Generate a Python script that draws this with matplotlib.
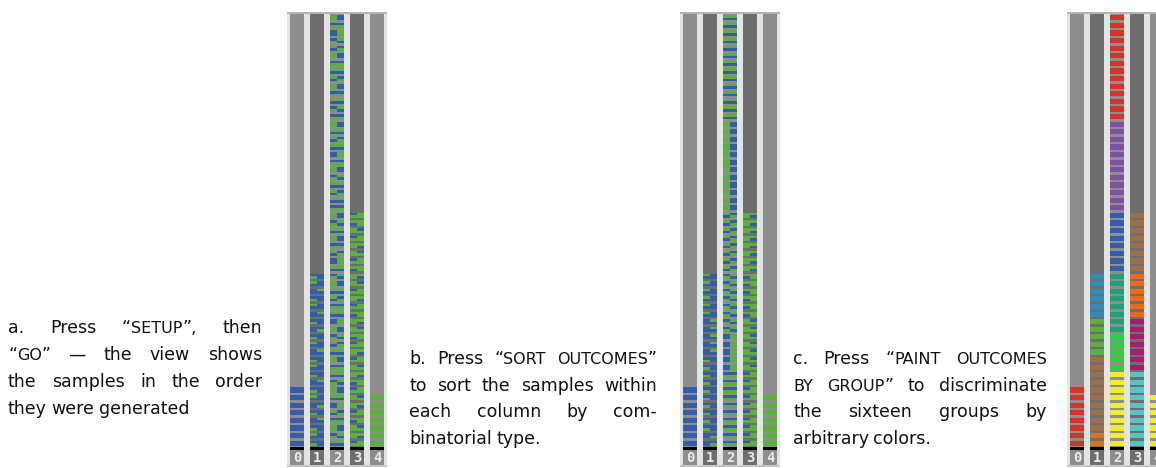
import re
import matplotlib
matplotlib.use("Agg")
import matplotlib.pyplot as plt

W, H = 1156, 468

# NetLogo-like palette
BLUE = "#345da9"
GREEN = "#59b03c"
RED = "#d73229"
ORANGE = "#f16913"
BROWN = "#9d6e48"
YELLOW = "#eded2f"
CYAN = "#54c4c4"
MAGENTA = "#a71b6a"
VIOLET = "#7c50a4"
TURQUOISE = "#1d9f78"
LIME = "#2cd13b"
SKY = "#2d8dbe"
COL_BG = ["#8d8d8d", "#6e6e6e", "#8d8d8d", "#6e6e6e", "#8d8d8d"]
LIGHT = "#e4e4e4"

# combinatorial types per column: (TL, TR, BL, BR), 1 = green
col_types = [
    ["0000"],
    ["0001", "0010", "0100", "1000"],
    ["0011", "0101", "0110", "1001", "1010", "1100"],
    ["0111", "1011", "1101", "1110"],
    ["1111"],
]
group_colors = [
    [RED],
    [ORANGE, BROWN, GREEN, SKY],
    [YELLOW, LIME, TURQUOISE, BLUE, VIOLET, RED],
    [CYAN, MAGENTA, ORANGE, BROWN],
    [YELLOW],
]

# samples in generated order, bottom to top (index into col_types)
seq0 = "00000000"
seq1 = "13121031213123101231231"
seq2 = ("5240315425" "0453241503" "5425130452"
        "4053524015" "3540250435" "0432104")
seq3 = "0312031023" "1030213203" "0132013012" "0"
seq4 = "0000000"
generated = [seq0, seq1, seq2, seq3, seq4]

col_labels = ["0", "1", "2", "3", "4"]

fig = plt.figure(figsize=(W / 100, H / 100), dpi=100)

CAP = 57.0
Y0, Y1 = -2.63, 57.27


def draw_chart(left_px, mode):
    ax = fig.add_axes([left_px / W, 1 - 467 / H, 100 / W, 455 / H])
    ax.set_facecolor(LIGHT)
    for s in ax.spines.values():
        s.set_visible(False)
    ax.set_xticks([])
    ax.set_yticks([])
    ax.set_xlim(0, 5)
    ax.set_ylim(Y0, Y1)
    ax.axhspan(CAP, Y1, color="#b4b4b4", lw=0)
    ax.axhspan(Y0, -2.37, color="#c8c8c8", lw=0)
    for i in range(5):
        ax.bar(i + 0.5, CAP, width=0.7, bottom=0, color=COL_BG[i], lw=0)
        ax.bar(i + 0.5, 0.39, width=0.7, bottom=-0.39, color="black", lw=0)
        ax.bar(i + 0.5, 1.97, width=0.7, bottom=-2.36, color=COL_BG[i], lw=0)
        ax.text(i + 0.5, -1.4, col_labels[i], ha="center", va="center",
                color="#ececec", fontsize=10, fontweight="bold",
                family="DejaVu Sans Mono")
        seq = generated[i] if mode == "gen" else "".join(sorted(generated[i]))
        for j, ch in enumerate(seq):
            t = int(ch)
            if mode == "paint":
                ax.bar(i + 0.15, 0.68, width=0.7, bottom=j + 0.16, align="edge",
                       color=group_colors[i][t], lw=0)
                continue
            pat = col_types[i][t]
            cells = [(0, 1, pat[0]), (1, 1, pat[1]), (0, 0, pat[2]), (1, 0, pat[3])]
            for cx, cy, v in cells:
                ax.bar(i + 0.15 + cx * 0.35, 0.34, width=0.35, bottom=j + 0.16 + cy * 0.34,
                       align="edge", color=GREEN if v == "1" else BLUE, lw=0)
    return ax


draw_chart(287, "gen")
draw_chart(680, "sort")
draw_chart(1067, "paint")

# ---- justified captions ----
FAMILY = "DejaVu Sans"
NORMAL, SMALL = 12.5, 11.5
renderer = fig.canvas.get_renderer()


def parse(word):
    out = []
    for piece in re.split(r"(\{[^}]*\})", word):
        if not piece:
            continue
        if piece.startswith("{"):
            out.append((piece[1:-1], True))
        else:
            out.append((piece, False))
    return out


def draw_line(words, x0, x1, base, justify=True):
    made = []
    for w in words:
        parts = []
        for txt, small in parse(w):
            t = fig.text(0, 1 - base / H, txt, fontsize=SMALL if small else NORMAL,
                         family=FAMILY, va="baseline", ha="left", color="#111111")
            parts.append((t, t.get_window_extent(renderer).width))
        made.append(parts)
    widths = [sum(p[1] for p in parts) for parts in made]
    if justify and len(words) > 1:
        gap = (x1 - x0 - sum(widths)) / (len(words) - 1)
    else:
        gap = 4.5
    x = x0
    for parts, wd in zip(made, widths):
        xx = x
        for t, pw in parts:
            t.set_x(xx / W)
            xx += pw
        x += wd + gap


cap_a = [
    ["a.", "Press", "“{SETUP}”,", "then"],
    ["“{GO}”", "—", "the", "view", "shows"],
    ["the", "samples", "in", "the", "order"],
    ["they", "were", "generated"],
]
cap_b = [
    ["b.", "Press", "“{SORT}", "{OUTCOMES}”"],
    ["to", "sort", "the", "samples", "within"],
    ["each", "column", "by", "com-"],
    ["binatorial", "type."],
]
cap_c = [
    ["c.", "Press", "“{PAINT}", "{OUTCOMES}"],
    ["{BY}", "{GROUP}”", "to", "discriminate"],
    ["the", "sixteen", "groups", "by"],
    ["arbitrary", "colors."],
]

for k, words in enumerate(cap_a):
    draw_line(words, 8, 262, 333 + 27 * k, justify=k < 3)
for k, words in enumerate(cap_b):
    draw_line(words, 409, 657, 364 + 26.7 * k, justify=k < 3)
for k, words in enumerate(cap_c):
    draw_line(words, 793, 1047, 364 + 26.7 * k, justify=k < 3)

fig.savefig("out.png", dpi=100)
